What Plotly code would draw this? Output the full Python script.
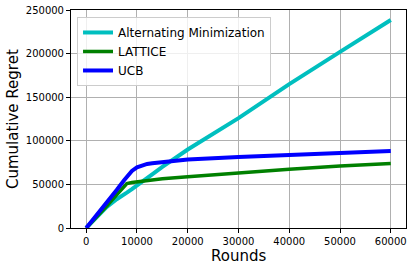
import plotly.graph_objects as go

rounds = [0, 2000, 4000, 6000, 7500, 8000, 9000, 10000, 11000, 12000, 13000, 15000,
          20000, 30000, 40000, 50000, 60000]
alt_min = [0, 11500, 24000, 33000, 38000, 40500, 44500, 49000, 53000, 57500, 61500, 70000,
           90000, 126000, 165000, 202000, 238500]
lattice = [0, 12000, 25000, 38000, 48500, 51000, 52200, 53000, 54000, 54800, 55300, 56500,
           58700, 63500, 67500, 71000, 74000]
ucb = [0, 14000, 28000, 43500, 55000, 59000, 65500, 69500, 72000, 73500, 74200, 75500,
       78500, 81500, 84000, 86300, 88300]

x_ticks = [0, 10000, 20000, 30000, 40000, 50000, 60000]
y_ticks = [0, 50000, 100000, 150000, 200000, 250000]
x_title = "Rounds"
y_title = "Cumulative Regret"

series = [
    ("Alternating Minimization", alt_min, "#00bfbf", 4),
    ("LATTICE", lattice, "#008000", 3.5),
    ("UCB", ucb, "#0000ff", 4),
]

fig = go.Figure()
for name, vals, color, w in series:
    fig.add_trace(go.Scatter(x=rounds, y=vals, name=name, mode="lines",
                             line=dict(color=color, width=w)))

font = "DejaVu Sans, sans-serif"
axis_common = dict(showgrid=True, gridcolor="#b0b0b0", gridwidth=1, showline=True,
                   linecolor="black", linewidth=1, mirror=True, ticks="outside",
                   ticklen=4, tickcolor="black", zeroline=False, automargin=False,
                   tickfont=dict(family=font, size=10, color="black"))
fig.update_xaxes(range=[-3000, 63000], tickvals=x_ticks, ticktext=[str(v) for v in x_ticks],
                 **axis_common)
fig.update_yaxes(range=[0, 250000], tickvals=y_ticks, ticktext=[str(v) for v in y_ticks],
                 **axis_common)
fig.add_annotation(text=x_title, xref="paper", yref="paper", x=0.5, y=-0.128,
                   xanchor="center", yanchor="middle", showarrow=False,
                   font=dict(family=font, size=15, color="black"))
fig.add_annotation(text=y_title, xref="paper", yref="paper", x=-0.173, y=0.5,
                   xanchor="center", yanchor="middle", textangle=-90, showarrow=False,
                   font=dict(family=font, size=15, color="black"))
fig.update_layout(
    width=413, height=271,
    margin=dict(l=71, r=7, t=10, b=43),
    paper_bgcolor="white", plot_bgcolor="white",
    font=dict(family=font, color="black"),
    legend=dict(x=0.018, y=0.968, xanchor="left", yanchor="top", itemwidth=30,
                bgcolor="rgba(255,255,255,0.8)", bordercolor="#cccccc", borderwidth=1,
                font=dict(family=font, size=12, color="black"), tracegroupgap=0),
)
fig.write_html("out.html", config={"displayModeBar": False},
               post_script="document.body.style.margin='0';document.body.style.padding='0';")
